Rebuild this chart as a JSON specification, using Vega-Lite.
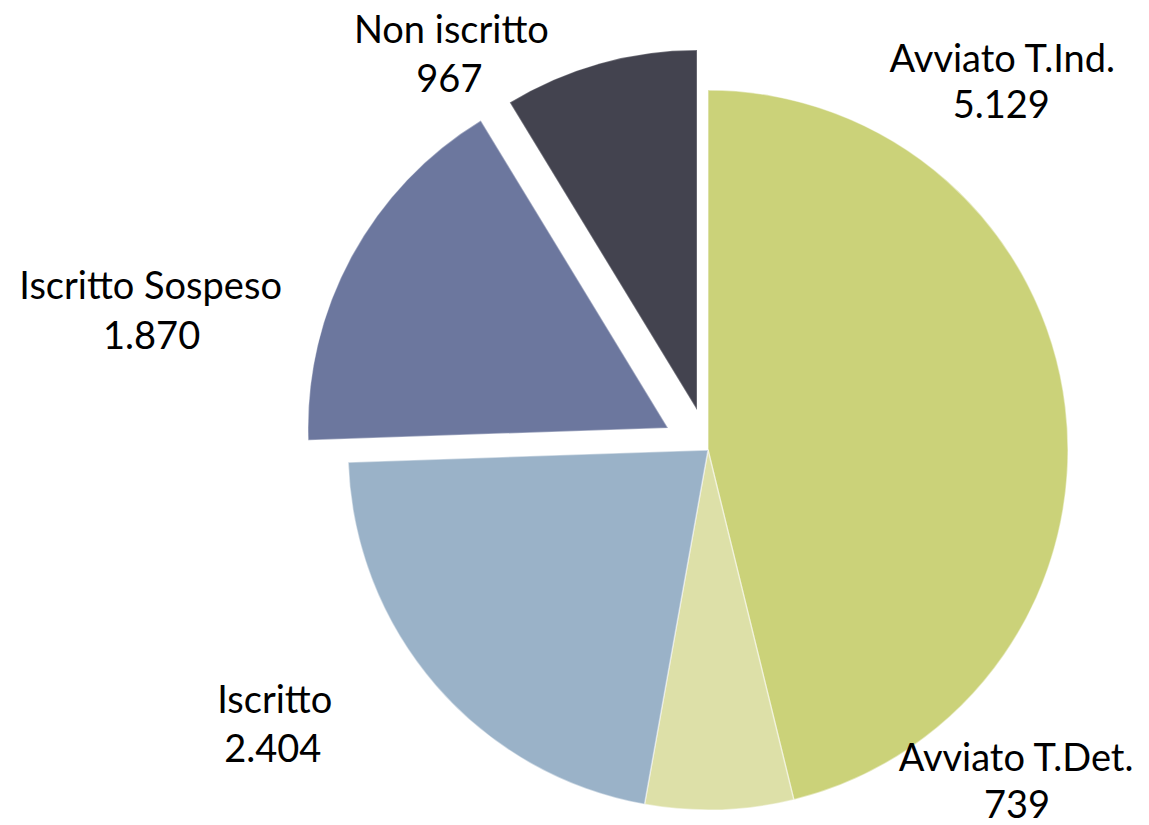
{
  "$schema": "https://vega.github.io/schema/vega-lite/v6.json",
  "width": 882,
  "height": 750,
  "autosize": {"type": "none"},
  "padding": {"left": 267, "top": 75, "right": 0, "bottom": 0},
  "background": "white",
  "config": {
    "view": {"stroke": null},
    "locale": {"number": {"decimal": ",", "thousands": ".", "grouping": [3], "currency": ["", " €"]}},
    "text": {"font": "Lato", "fontSize": 38, "color": "#000000", "align": "center", "baseline": "alphabetic"}
  },
  "data": {
    "values": [
      {"category": "Avviato T.Ind.", "value": 5129, "rank": 1},
      {"category": "Avviato T.Det.", "value": 739, "rank": 2},
      {"category": "Iscritto", "value": 2404, "rank": 3},
      {"category": "Iscritto Sospeso", "value": 1870, "rank": 4},
      {"category": "Non iscritto", "value": 967, "rank": 5}
    ]
  },
  "encoding": {
    "theta": {"field": "value", "type": "quantitative", "stack": true},
    "order": {"field": "rank", "type": "quantitative"}
  },
  "layer": [
    {
      "mark": {"type": "arc", "outerRadius": 360, "stroke": "#ffffff", "strokeWidth": 1.5, "strokeOpacity": 0.45},
      "encoding": {
        "color": {"field": "category", "type": "nominal", "legend": null,
          "scale": {"domain": ["Avviato T.Ind.", "Avviato T.Det.", "Iscritto", "Iscritto Sospeso", "Non iscritto"],
                    "range": ["#cbd279", "#dde0a8", "#9ab2c8", "#6c779e", "#43434f"]}},
        "opacity": {"condition": {"test": "datum.rank <= 3", "value": 1}, "value": 0}
      }
    },
    {
      "mark": {"type": "arc", "outerRadius": 360, "xOffset": -40, "yOffset": -22, "stroke": "#ffffff", "strokeWidth": 1.5, "strokeOpacity": 0.35},
      "encoding": {
        "color": {"field": "category", "type": "nominal", "legend": null},
        "opacity": {"condition": {"test": "datum.rank === 4", "value": 1}, "value": 0}
      }
    },
    {
      "mark": {"type": "arc", "outerRadius": 360, "xOffset": -11, "yOffset": -40, "stroke": "#ffffff", "strokeWidth": 1.5, "strokeOpacity": 0.25},
      "encoding": {
        "color": {"field": "category", "type": "nominal", "legend": null},
        "opacity": {"condition": {"test": "datum.rank === 5", "value": 1}, "value": 0}
      }
    },
    {
      "mark": {"type": "text", "radius": 380, "dx": -83, "dy": -332},
      "encoding": {"detail": {"field": "category"}, "text": {"field": "category"},
        "opacity": {"condition": {"test": "datum.rank === 1", "value": 1}, "value": 0}}
    },
    {
      "mark": {"type": "text", "radius": 380, "dx": -84, "dy": -286},
      "encoding": {"detail": {"field": "category"}, "text": {"field": "value", "type": "quantitative", "format": ",d"},
        "opacity": {"condition": {"test": "datum.rank === 1", "value": 1}, "value": 0}}
    },
    {
      "mark": {"type": "text", "radius": 380, "dx": 296, "dy": -59},
      "encoding": {"detail": {"field": "category"}, "text": {"field": "category"},
        "opacity": {"condition": {"test": "datum.rank === 2", "value": 1}, "value": 0}}
    },
    {
      "mark": {"type": "text", "radius": 380, "dx": 297, "dy": -12},
      "encoding": {"detail": {"field": "category"}, "text": {"field": "value", "type": "quantitative", "format": ",d"},
        "opacity": {"condition": {"test": "datum.rank === 2", "value": 1}, "value": 0}}
    },
    {
      "mark": {"type": "text", "radius": 380, "dx": -146, "dy": 14},
      "encoding": {"detail": {"field": "category"}, "text": {"field": "category"},
        "opacity": {"condition": {"test": "datum.rank === 3", "value": 1}, "value": 0}}
    },
    {
      "mark": {"type": "text", "radius": 380, "dx": -148, "dy": 63},
      "encoding": {"detail": {"field": "category"}, "text": {"field": "value", "type": "quantitative", "format": ",d"},
        "opacity": {"condition": {"test": "datum.rank === 3", "value": 1}, "value": 0}}
    },
    {
      "mark": {"type": "text", "radius": 380, "dx": -223, "dy": 30},
      "encoding": {"detail": {"field": "category"}, "text": {"field": "category"},
        "opacity": {"condition": {"test": "datum.rank === 4", "value": 1}, "value": 0}}
    },
    {
      "mark": {"type": "text", "radius": 380, "dx": -222, "dy": 80},
      "encoding": {"detail": {"field": "category"}, "text": {"field": "value", "type": "quantitative", "format": ",d"},
        "opacity": {"condition": {"test": "datum.rank === 4", "value": 1}, "value": 0}}
    },
    {
      "mark": {"type": "text", "radius": 380, "dx": -154, "dy": -41},
      "encoding": {"detail": {"field": "category"}, "text": {"field": "category"},
        "opacity": {"condition": {"test": "datum.rank === 5", "value": 1}, "value": 0}}
    },
    {
      "mark": {"type": "text", "radius": 380, "dx": -156, "dy": 8},
      "encoding": {"detail": {"field": "category"}, "text": {"field": "value", "type": "quantitative", "format": ",d"},
        "opacity": {"condition": {"test": "datum.rank === 5", "value": 1}, "value": 0}}
    }
  ]
}
